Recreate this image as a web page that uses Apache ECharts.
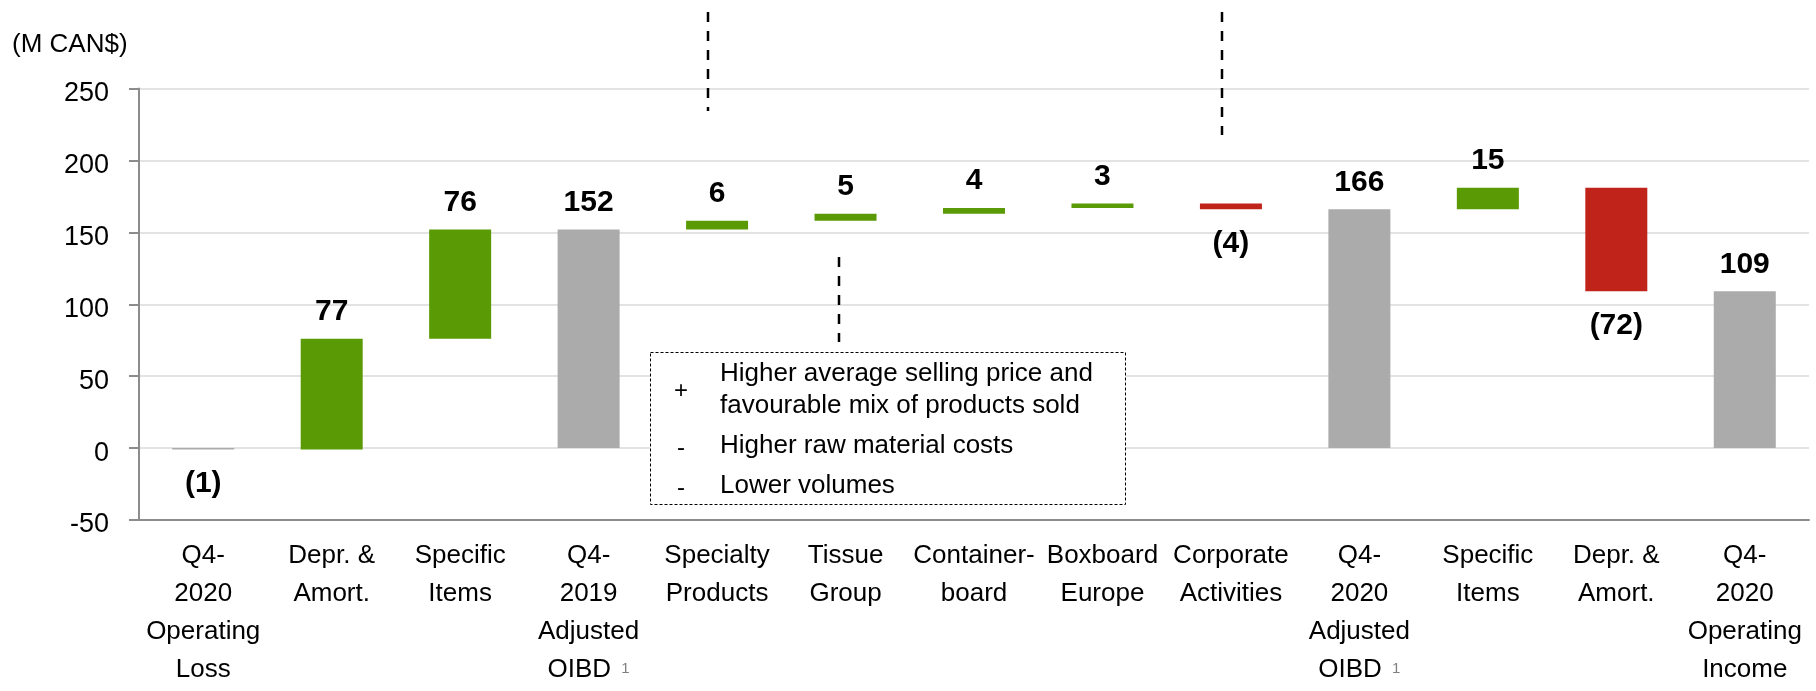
<!DOCTYPE html>
<html>
<head>
<meta charset="utf-8">
<script src="https://cdn.jsdelivr.net/npm/echarts@6/dist/echarts.min.js"></script>
<style>
  html, body { margin: 0; padding: 0; background: #fff; }
  #chart { width: 1816px; height: 691px; }
</style>
</head>
<body>
<div id="chart"></div>
<script>
// waterfall data (M CAN$)
const categories = [
    'Q4-\n2020\nOperating\nLoss',
    'Depr. &\nAmort.',
    'Specific\nItems',
    'Q4-\n2019\nAdjusted\nOIBD {sup|1}',
    'Specialty\nProducts',
    'Tissue\nGroup',
    'Container-\nboard',
    'Boxboard\nEurope',
    'Corporate\nActivities',
    'Q4-\n2020\nAdjusted\nOIBD {sup|1}',
    'Specific\nItems',
    'Depr. &\nAmort.',
    'Q4-\n2020\nOperating\nIncome'
]
const amounts = [-1, 77, 76, 152, 6, 5, 4, 3, -4, 166, 15, -72, 109]
const totalFlags = [1, 0, 0, 1, 0, 0, 0, 0, 0, 1, 0, 0, 1]
const yTicks = { min: -50, max: 250, step: 50 }

const font = "'Liberation Sans', Arial, sans-serif"
const colors = { total: '#ababab', up: '#5a9a05', down: '#c0231a' }

// build floating bars: invisible base + visible step
let run = 0
const bases = []
const steps = []
amounts.forEach((a, i) => {
    let start, end
    if (totalFlags[i]) {
        start = 0
        end = a
    } else {
        start = run
        end = run + a
    }
    run = end
    bases.push(Math.min(start, end))
    const neg = a < 0
    steps.push({
        value: Math.abs(end - start),
        itemStyle: { color: totalFlags[i] ? colors.total : (neg ? colors.down : colors.up) },
        label: {
            position: neg ? 'bottom' : 'top',
            distance: neg ? 19 : 12
        }
    })
})

const boxText = (x, y, text, size) => ({
    type: 'text', x: x, y: y, z: 110,
    style: { text: text, fontFamily: font, fontSize: size, fill: '#000', align: size < 26 ? 'center' : 'left', verticalAlign: 'middle' }
})
const dash = (x, y1, y2) => ({
    type: 'line', z: 110, shape: { x1: x, y1: y1, x2: x, y2: y2 },
    style: { stroke: '#000', lineWidth: 2.5, lineDash: [10, 9] }
})

const chart = echarts.init(document.getElementById('chart'))
chart.setOption({
    animation: false,
    grid: { left: 139, right: 7, top: 88.5, bottom: 171 },
    xAxis: {
        type: 'category',
        data: categories,
        axisLine: { onZero: false, lineStyle: { color: '#8c8c8c', width: 2 } },
        axisTick: { show: false },
        axisLabel: {
            interval: 0,
            margin: 17,
            fontFamily: font,
            fontSize: 26,
            lineHeight: 38,
            color: '#000',
            rich: {
                sup: { fontSize: 15, color: '#7f7f7f', fontFamily: font, verticalAlign: 'top', lineHeight: 38, padding: [10, 0, 0, 3] }
            }
        }
    },
    yAxis: {
        type: 'value',
        min: yTicks.min,
        max: yTicks.max,
        interval: yTicks.step,
        axisLine: { show: true, lineStyle: { color: '#8c8c8c', width: 2 } },
        axisTick: { show: true, length: 10, lineStyle: { color: '#8c8c8c', width: 2 } },
        axisLabel: {
            margin: 30,
            color: '#000',
            formatter: '{v|{value}}',
            rich: {
                v: { fontFamily: font, fontSize: 27, color: '#000', padding: [10, 0, 0, 0] }
            }
        },
        splitLine: { lineStyle: { color: '#e3e3e3', width: 2 } }
    },
    series: [
        {
            name: 'base',
            type: 'bar',
            stack: 'w',
            stackStrategy: 'all',
            silent: true,
            barWidth: 62,
            itemStyle: { color: 'transparent' },
            data: bases
        },
        {
            name: 'step',
            type: 'bar',
            stack: 'w',
            stackStrategy: 'all',
            barWidth: 62,
            data: steps,
            label: {
                show: true,
                fontFamily: font,
                fontWeight: 'bold',
                fontSize: 30,
                color: '#000',
                formatter: p => {
                    const a = amounts[p.dataIndex]
                    return a < 0 ? '(' + Math.abs(a) + ')' : String(a)
                }
            }
        }
    ],
    graphic: [
        {
            type: 'text', left: 12, top: 32, z: 110,
            style: { text: '(M CAN$)', fontFamily: font, fontSize: 26, fill: '#000' }
        },
        // callout connectors
        dash(708, 12, 111),
        dash(839, 257, 342),
        dash(1222, 12, 135),
        // comment box
        {
            type: 'rect', z: 100, shape: { x: 650.5, y: 352.5, width: 475, height: 152 },
            style: { fill: '#fff', stroke: '#000', lineWidth: 1, lineDash: [3, 2] }
        },
        boxText(681, 391, '+', 24),
        boxText(720, 374, 'Higher average selling price and', 26),
        boxText(720, 406, 'favourable mix of products sold', 26),
        boxText(681, 448, '-', 24),
        boxText(720, 446, 'Higher raw material costs', 26),
        boxText(681, 488, '-', 24),
        boxText(720, 486, 'Lower volumes', 26)
    ]
})
</script>
</body>
</html>
